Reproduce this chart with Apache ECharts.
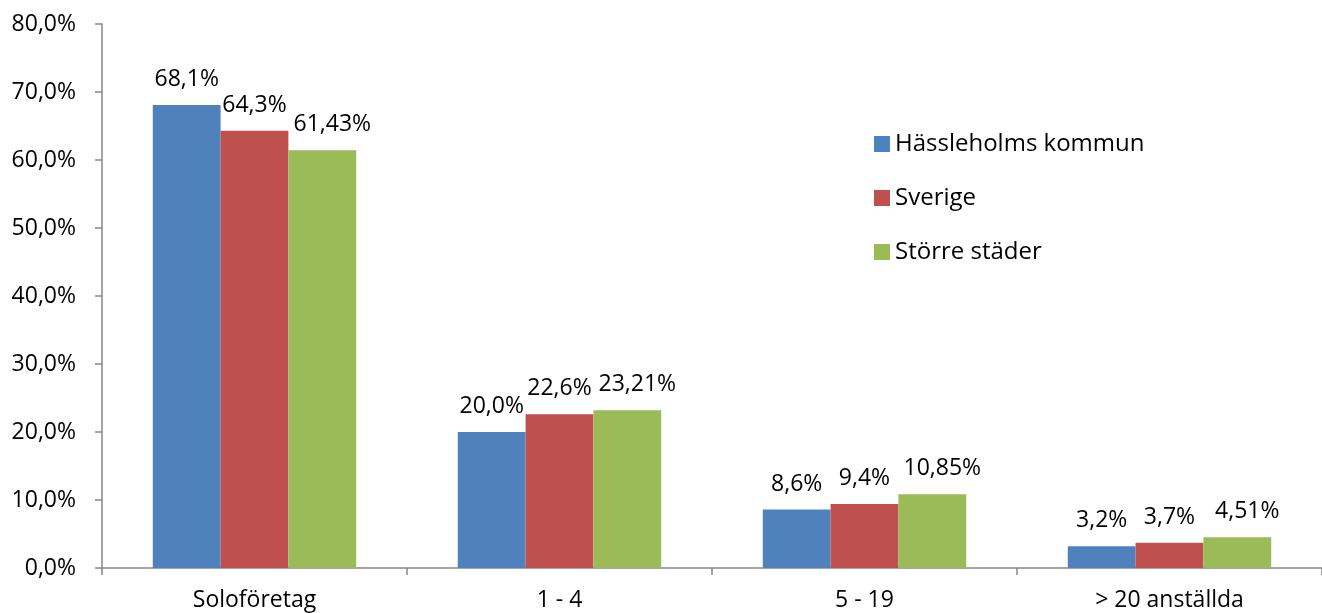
<!DOCTYPE html>
<html>
<head>
<meta charset="utf-8">
<script src="https://cdn.jsdelivr.net/npm/echarts@6/dist/echarts.min.js"></script>
<style>
  html, body { margin: 0; padding: 0; background: #fff; }
  #chart { width: 1322px; height: 613px; }
</style>
</head>
<body>
<div id="chart"></div>
<script>
// data
const categories = ['Soloföretag', '1 - 4', '5 - 19', '> 20 anställda']
const seriesNames = ['Hässleholms kommun', 'Sverige', 'Större städer']
const hassleholm = [68.1, 20.0, 8.6, 3.2]
const sverige = [64.3, 22.6, 9.4, 3.7]
const storreStader = [61.43, 23.21, 10.85, 4.51]
const labelDecimals = [1, 1, 2]

const colors = ['#4F81BD', '#C0504D', '#9BBB59']
const font = '"Open Sans", sans-serif'
const fontSize = 23

const fmt = (v, d) => v.toFixed(d).replace('.', ',') + '%'

const chart = echarts.init(document.getElementById('chart'))

const makeSeries = (name, data, i) => ({
  name: name,
  type: 'bar',
  data: data,
  barGap: 0,
  barCategoryGap: '33.3%',
  itemStyle: { color: colors[i] },
  label: {
    show: true,
    position: 'top',
    distance: 14,
    // excel labels of the last series sit a bit to the right
    offset: i === 2 ? [10, 0] : [0, 0],
    color: '#000',
    fontFamily: font,
    fontSize: fontSize,
    formatter: p => fmt(p.value, labelDecimals[i])
  }
})

chart.setOption({
  animation: false,
  grid: { left: 102, right: -9, top: 24, bottom: 45 },
  legend: {
    orient: 'vertical',
    left: 869,
    top: 127,
    itemWidth: 16,
    itemHeight: 16,
    itemGap: 30,
    icon: 'rect',
    textStyle: { fontFamily: font, fontSize: 24, color: '#000' },
    data: seriesNames
  },
  xAxis: {
    type: 'category',
    data: categories,
    axisLine: { lineStyle: { color: '#868686', width: 1.5 } },
    axisTick: { show: true, length: 7, lineStyle: { color: '#868686', width: 1.5 } },
    axisLabel: { color: '#000', fontFamily: font, fontSize: fontSize, margin: 21 }
  },
  yAxis: {
    type: 'value',
    min: 0,
    max: 80,
    interval: 10,
    splitLine: { show: false },
    axisLine: { show: true, lineStyle: { color: '#868686', width: 1.5 } },
    axisTick: { show: true, length: 7, lineStyle: { color: '#868686', width: 1.5 } },
    axisLabel: { color: '#000', fontFamily: font, fontSize: fontSize, margin: 26, formatter: v => fmt(v, 1) }
  },
  series: [
    makeSeries(seriesNames[0], hassleholm, 0),
    makeSeries(seriesNames[1], sverige, 1),
    makeSeries(seriesNames[2], storreStader, 2)
  ]
})
</script>
</body>
</html>
